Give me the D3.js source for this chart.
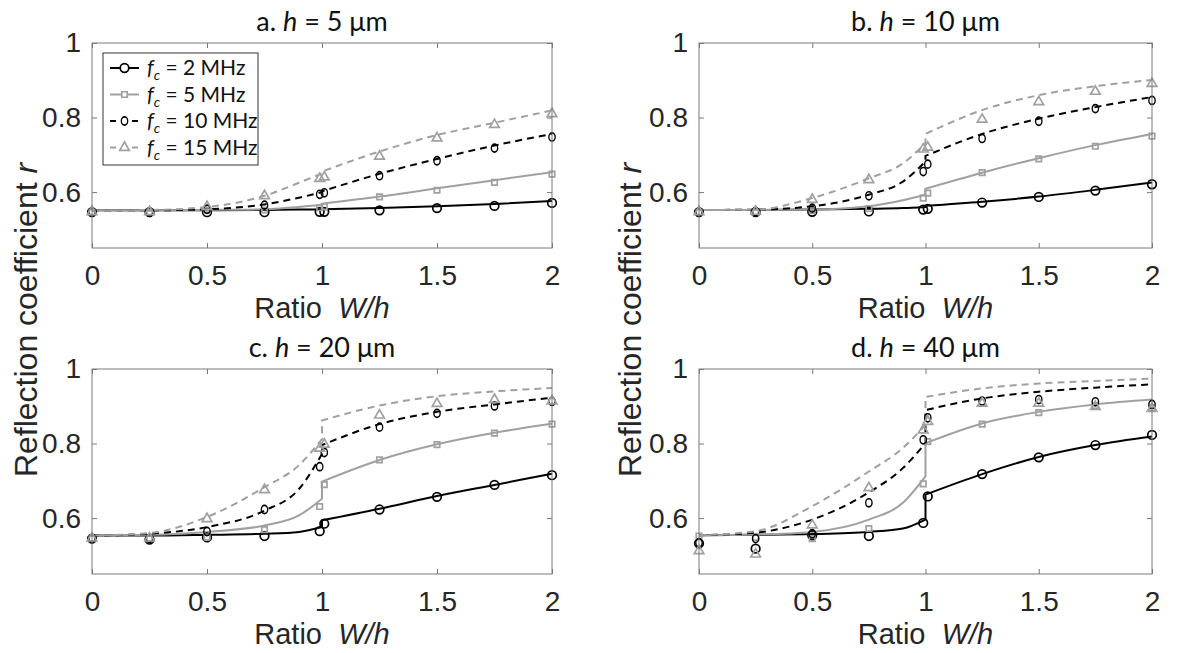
<!DOCTYPE html>
<html>
<head>
<meta charset="utf-8">
<script src="https://cdn.jsdelivr.net/npm/d3@7"></script>
<style>
  body { margin: 0; background: #fff; }
  svg { display: block; }
</style>
</head>
<body>
<svg id="chart" width="1178" height="653"></svg>
<script>
// x positions of the simulated points and of the model curve knots
var markX = [0, 0.25, 0.5, 0.75, 0.99, 1.01, 1.25, 1.5, 1.75, 2];
var lineXPre = [0, 0.25, 0.5, 0.75, 0.9, 1];
var lineXPost = [1, 1.25, 1.5, 1.75, 2];

var xTicks = [0, 0.5, 1, 1.5, 2];
var yTicks = [0.6, 0.8, 1];

var freqs = ['2', '5', '10', '15'];
var panelNames = ['a', 'b', 'c', 'd'];
var panelH = ['5', '10', '20', '40'];

// model curves (before and after W/h = 1), per panel, per frequency
var aLinePre  = [[0.551,0.551,0.551,0.552,0.553,0.553],[0.551,0.551,0.552,0.554,0.560,0.566],[0.551,0.551,0.554,0.567,0.585,0.600],[0.551,0.552,0.560,0.590,0.625,0.650]];
var aLinePost = [[0.554,0.557,0.562,0.568,0.576],[0.569,0.588,0.610,0.632,0.653],[0.602,0.649,0.689,0.725,0.756],[0.655,0.709,0.753,0.786,0.819]];
var bLinePre  = [[0.552,0.552,0.553,0.555,0.557,0.560],[0.552,0.552,0.553,0.562,0.578,0.593],[0.552,0.553,0.562,0.593,0.628,0.682],[0.552,0.553,0.584,0.637,0.677,0.731]];
var bLinePost = [[0.563,0.574,0.588,0.606,0.626],[0.609,0.652,0.691,0.726,0.756],[0.697,0.756,0.797,0.828,0.855],[0.756,0.820,0.860,0.884,0.901]];
var cLinePre  = [[0.553,0.553,0.555,0.558,0.563,0.576],[0.553,0.555,0.563,0.580,0.607,0.652],[0.553,0.558,0.576,0.620,0.678,0.772],[0.553,0.560,0.603,0.683,0.742,0.812]];
var cLinePost = [[0.594,0.625,0.659,0.689,0.719],[0.698,0.756,0.798,0.829,0.853],[0.796,0.852,0.885,0.905,0.923],[0.862,0.902,0.927,0.940,0.949]];
var dLinePre  = [[0.554,0.555,0.557,0.563,0.572,0.596],[0.554,0.556,0.563,0.596,0.641,0.712],[0.554,0.561,0.596,0.669,0.734,0.801],[0.554,0.565,0.632,0.725,0.788,0.850]];
var dLinePost = [[0.663,0.718,0.764,0.796,0.819],[0.801,0.854,0.885,0.905,0.918],[0.890,0.921,0.939,0.950,0.959],[0.925,0.948,0.961,0.968,0.974]];

// simulated points
var aMarks = [[0.546,0.546,0.546,0.546,0.547,0.547,0.551,0.557,0.563,0.571],[0.546,0.546,0.551,0.552,0.558,0.561,0.587,0.605,0.626,0.648],[0.546,0.546,0.554,0.565,0.594,0.598,0.644,0.684,0.718,0.748],[0.547,0.547,0.561,0.590,0.636,0.640,0.696,0.745,0.781,0.810]];
var bMarks = [[0.546,0.546,0.547,0.548,0.553,0.555,0.572,0.587,0.604,0.621],[0.546,0.546,0.550,0.556,0.584,0.597,0.652,0.689,0.723,0.750],[0.546,0.548,0.557,0.590,0.655,0.675,0.744,0.790,0.824,0.846],[0.547,0.548,0.580,0.633,0.715,0.720,0.795,0.842,0.870,0.891]];
var cMarks = [[0.545,0.542,0.548,0.552,0.565,0.585,0.623,0.657,0.689,0.715],[0.545,0.545,0.549,0.569,0.631,0.690,0.756,0.797,0.828,0.852],[0.545,0.545,0.564,0.623,0.738,0.776,0.844,0.881,0.901,0.913],[0.546,0.546,0.598,0.676,0.787,0.798,0.876,0.907,0.918,0.914]];
var dMarks = [[0.532,0.518,0.554,0.552,0.587,0.658,0.718,0.763,0.796,0.823],[0.552,0.548,0.545,0.572,0.692,0.805,0.852,0.883,0.902,0.896],[0.534,0.545,0.558,0.641,0.810,0.869,0.914,0.918,0.912,0.905],[0.512,0.503,0.581,0.681,0.836,0.859,0.908,0.908,0.899,0.894]];

var linePre = [aLinePre, bLinePre, cLinePre, dLinePre];
var linePost = [aLinePost, bLinePost, cLinePost, dLinePost];
var marks = [aMarks, bMarks, cMarks, dMarks];

// style per frequency (sx squeezes the 10 MHz marker into an oval)
var styles = [
  { color: '#000000', dash: null,  symbol: d3.symbolCircle,   size: 58, sx: 1 },
  { color: '#a0a0a0', dash: null,  symbol: d3.symbolSquare,   size: 30, sx: 1 },
  { color: '#000000', dash: '7,5', symbol: d3.symbolCircle,   size: 52, sx: 0.78 },
  { color: '#a0a0a0', dash: '7,5', symbol: d3.symbolTriangle, size: 40, sx: 1 }
];

var boxes = [
  { left: 92,  top: 43,  right: 552,  bottom: 248 },
  { left: 699, top: 43,  right: 1152, bottom: 248 },
  { left: 92,  top: 369, right: 552,  bottom: 574 },
  { left: 699, top: 369, right: 1152, bottom: 574 }
];

var svg = d3.select('#chart');
var tickFont = '"Liberation Sans", Arial, sans-serif';
var calFont = 'Lato, "Open Sans", sans-serif';
var axisGray = '#7a7a7a';
var textColor = '#262626';

function drawPanel(p){
  var b = boxes[p];
  var w = b.right - b.left, h = b.bottom - b.top;
  var x = d3.scaleLinear().domain([0, 2]).range([0, w]);
  var y = d3.scaleLinear().domain([0.45, 1]).range([h, 0]);

  var g = svg.append('g').attr('transform', 'translate(' + b.left + ',' + b.top + ')');

  g.append('rect').attr('width', w).attr('height', h).attr('fill', '#fff');

  // inward ticks on all four sides, matlab style
  var bottomAxis = g.append('g').attr('transform', 'translate(0,' + h + ')')
    .call(d3.axisBottom(x).tickValues(xTicks).tickFormat(d3.format('')).tickSizeInner(-5).tickSizeOuter(0).tickPadding(17));
  var topAxis = g.append('g')
    .call(d3.axisTop(x).tickValues(xTicks).tickFormat('').tickSizeInner(-5).tickSizeOuter(0));
  var leftAxis = g.append('g')
    .call(d3.axisLeft(y).tickValues(yTicks).tickFormat(d3.format('')).tickSizeInner(-5).tickSizeOuter(0).tickPadding(11));
  var rightAxis = g.append('g').attr('transform', 'translate(' + w + ',0)')
    .call(d3.axisRight(y).tickValues(yTicks).tickFormat('').tickSizeInner(-5).tickSizeOuter(0));

  [bottomAxis, topAxis, leftAxis, rightAxis].forEach(function(a){
    a.select('.domain').remove();
    a.selectAll('line').attr('stroke', axisGray);
    a.selectAll('text').attr('fill', textColor).style('font-family', tickFont).style('font-size', '28px');
  });

  var clip = 'clip' + p;
  g.append('clipPath').attr('id', clip).append('rect').attr('x', -6).attr('y', -2).attr('width', w + 12).attr('height', h + 4);
  var plot = g.append('g').attr('clip-path', 'url(#' + clip + ')');

  var line = d3.line()
    .x(function(d){ return x(d[0]); })
    .y(function(d){ return y(d[1]); })
    .curve(d3.curveMonotoneX);

  for (var s = 0; s < 4; s++){
    var st = styles[s];
    // left part, jump at W/h = 1, right part
    var pts = lineXPre.map(function(xv, i){ return [xv, linePre[p][s][i]]; });
    var pts2 = lineXPost.map(function(xv, i){ return [xv, linePost[p][s][i]]; });
    var pathD = line(pts) + 'L' + line(pts2).slice(1);
    plot.append('path')
      .attr('d', pathD)
      .attr('fill', 'none')
      .attr('stroke', st.color)
      .attr('stroke-width', 2)
      .attr('stroke-dasharray', st.dash);
  }

  for (var s2 = 0; s2 < 4; s2++){
    var st2 = styles[s2];
    plot.selectAll('.m' + s2)
      .data(markX.map(function(xv, i){ return [xv, marks[p][s2][i]]; }))
      .enter().append('path')
      .attr('class', 'm' + s2)
      .attr('transform', function(d){ return 'translate(' + x(d[0]) + ',' + y(d[1]) + ') scale(' + st2.sx + ',1)'; })
      .attr('d', d3.symbol().type(st2.symbol).size(st2.size))
      .attr('fill', 'none')
      .attr('stroke', st2.color)
      .attr('stroke-width', 1.7);
  }

  g.append('rect').attr('width', w).attr('height', h)
    .attr('fill', 'none').attr('stroke', axisGray).attr('stroke-width', 1);

  // title
  var t = svg.append('text')
    .attr('x', b.left + w / 2).attr('y', b.top - 12)
    .attr('text-anchor', 'middle')
    .style('font-family', calFont).style('font-size', '27px').attr('fill', '#111');
  t.append('tspan').text(panelNames[p] + '. ');
  t.append('tspan').style('font-style', 'italic').text('h');
  t.append('tspan').text(' = ' + panelH[p] + ' \u03bcm');

  // x label
  var xl = svg.append('text')
    .attr('x', b.left + w / 2).attr('y', b.bottom + 70)
    .attr('text-anchor', 'middle')
    .style('font-family', tickFont).style('font-size', '29px').attr('fill', textColor);
  xl.append('tspan').text('Ratio\u00a0\u00a0');
  xl.append('tspan').style('font-style', 'italic').text('W/h');
}

for (var p = 0; p < 4; p++){ drawPanel(p); }

// shared y labels, one per column
[37, 641].forEach(function(cx){
  var yl = svg.append('text')
    .attr('transform', 'translate(' + cx + ',320) rotate(-90)')
    .attr('text-anchor', 'middle')
    .style('font-family', tickFont).style('font-size', '32px').attr('fill', textColor);
  yl.append('tspan').text('Reflection coefficient ');
  yl.append('tspan').style('font-style', 'italic').text('r');
});

// legend in panel a
var leg = svg.append('g').attr('transform', 'translate(103,53)');
leg.append('rect').attr('width', 155).attr('height', 112)
  .attr('fill', '#fff').attr('stroke', '#333').attr('stroke-width', 1);
freqs.forEach(function(f, i){
  var st = styles[i];
  var ly = 15 + i * 26.5;
  leg.append('line').attr('x1', 7).attr('x2', 36).attr('y1', ly).attr('y2', ly)
    .attr('stroke', st.color).attr('stroke-width', 2).attr('stroke-dasharray', st.dash ? '6,5' : null);
  leg.append('path').attr('transform', 'translate(21.5,' + ly + ') scale(' + st.sx + ',1)')
    .attr('d', d3.symbol().type(st.symbol).size(st.size))
    .attr('fill', '#fff').attr('stroke', st.color).attr('stroke-width', 1.7);
  var tx = leg.append('text').attr('x', 44).attr('y', ly + 7)
    .style('font-family', calFont).style('font-size', '21px').attr('fill', '#111');
  tx.append('tspan').style('font-style', 'italic').text('f');
  tx.append('tspan').style('font-style', 'italic').style('font-size', '14px').attr('dy', 5).text('c');
  tx.append('tspan').attr('dy', -5).text(' = ' + f + ' MHz');
});
</script>
</body>
</html>
